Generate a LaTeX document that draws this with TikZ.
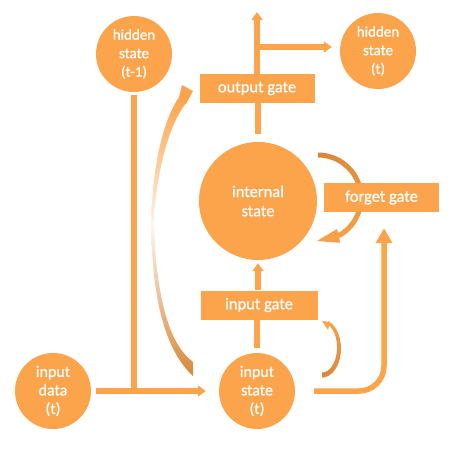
\documentclass[tikz,border=0pt]{standalone}
\usepackage{fontspec}
\setmainfont{Carlito}
\newfontfamily\lblfont[FakeBold=0.7]{Carlito}
\usetikzlibrary{arrows.meta,calc,backgrounds}
\definecolor{myor}{RGB}{251,164,76}
\definecolor{dkor}{RGB}{217,135,57}
\begin{document}
\begin{tikzpicture}[x=1pt,y=-1pt,
  circ/.style={circle,fill=myor,text=white,minimum size=76pt,inner sep=0pt,align=center,font=\lblfont\fontsize{15pt}{18.5pt}\selectfont},
  bigcirc/.style={circ,minimum size=118pt,font=\lblfont\fontsize{16.5pt}{19.3pt}\selectfont},
  gate/.style={rectangle,fill=myor,text=white,minimum width=115pt,minimum height=29pt,inner sep=0pt,font=\lblfont\fontsize{16.5pt}{19pt}\selectfont},
  conn/.style={draw=myor,line width=5.5pt},
  arr/.style={conn,-{Triangle[width=11pt,length=8pt]}},
  bigarr/.style={conn,-{Triangle[width=16pt,length=15pt]}}
  ]
\useasboundingbox (0,0) rectangle (450,450);
% nodes
\node[circ] (hid1) at (134,54) {hidden\\state\\(t-1)};
\node[circ] (hid2) at (378,51) {hidden\\state\\(t)};
\node[circ,font=\lblfont\fontsize{16pt}{18.5pt}\selectfont] (indata) at (53,391) {input\\data\\(t)};
\node[circ,font=\lblfont\fontsize{16pt}{18.5pt}\selectfont] (instate) at (257,391) {input\\state\\(t)};
\node[bigcirc] (internal) at (258,201) {internal\\state};
\node[gate] (outgate) at (257,88.5) {output gate};
\node[gate] (forget) at (381.5,197.5) {forget gate};
\node[gate,minimum width=117pt] (ingate) at (259,305) {input gate};
\coordinate (j) at (134,391);
\coordinate (top) at (257,12);
\coordinate (b) at (257,47);
% straight connectors
\draw[conn,shorten <=3pt] (hid1.south) -- (j);
\draw[arr,shorten <=5pt,shorten >=13pt] (indata.east) -- (instate.west);
\draw[arr] (outgate.north) -- (top);
\draw[arr,shorten >=8pt] (b) -- (b -| hid2.west);
\draw[conn,shorten <=8pt] (internal.north) -- (internal.north |- outgate.south);
\draw[arr,shorten >=3pt] (ingate.north -| internal.south) -- (internal.south);
\draw[conn,shorten <=5pt] (instate.north) -- (instate.north |- ingate.south);
\draw[bigarr,rounded corners=25pt,shorten <=19pt,shorten >=16pt] (instate.east) -| ([xshift=2.5pt]forget.south);
% forget loop arc (gradient), behind the forget gate
\begin{pgfonlayer}{background}
\foreach \i in {0,...,14}{
  \pgfmathsetmacro{\aa}{90-10*\i}
  \pgfmathsetmacro{\ab}{90-10*(\i+1)-1}
  \pgfmathsetmacro{\p}{100-6*\i}
  \draw[draw=dkor!\p!myor,line width=5pt]
    ({318+43*cos(\aa)},{198-43*sin(\aa)}) arc[start angle=-\aa,end angle=-\ab,radius=43];
}
\fill[myor!85!dkor] (317,241) -- (336.6,229.2) -- (339.5,235) -- (339.8,242.8) -- cycle;
\end{pgfonlayer}
% small loop arc near input gate (gradient, tapering)
\foreach \i in {0,...,15}{
  \pgfmathsetmacro{\aa}{-90+10*\i}
  \pgfmathsetmacro{\ab}{-90+10*(\i+1)+1}
  \pgfmathsetmacro{\p}{100-6*\i}
  \pgfmathsetmacro{\w}{5-0.13*\i}
  \draw[draw=dkor!\p!myor,line width=\w pt]
    plot[domain=\aa:\ab,samples=4] ({322+17*cos(\x)},{348-27*sin(\x)});
}
\fill[myor] (322,321) -- (330,322) -- (328,330) -- cycle;
% long curved arrow from input state to output gate
\shade[top color=myor,bottom color=myor!12!white]
  (151,228) .. controls (152,160) and (165,118) .. (179,97)
  -- (186,103) .. controls (170,124) and (157,165) .. (153,228) -- cycle;
\fill[myor] (193,91) -- (182,85) -- (179,97) -- (186,104) -- cycle;
\shade[top color=myor!8!white,bottom color=dkor]
  (151,222) .. controls (152,300) and (165,350) .. (193,376)
  -- (193,362) .. controls (170,345) and (156,300) .. (154,222) -- cycle;
\end{tikzpicture}
\end{document}
